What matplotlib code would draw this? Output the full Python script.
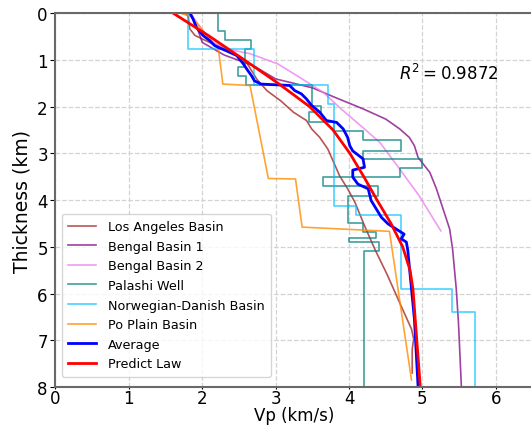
import matplotlib
matplotlib.use("Agg")
import matplotlib.pyplot as plt

# Velocity profiles (depth in km, Vp in km/s)
la_depth = [0, 0.09, 0.34, 0.48, 0.63, 0.77, 1.05, 1.41, 1.66, 1.88, 2.12, 2.30, 2.48, 2.66,
            2.91, 3.23, 3.48, 3.76, 4.05, 4.55, 5.05, 5.6, 6.2, 6.76, 6.97, 7.19, 7.7]
la_vp = [1.78, 1.81, 1.83, 1.90, 2.10, 2.33, 2.60, 2.74, 2.88, 3.07, 3.24, 3.42, 3.49, 3.60,
         3.71, 3.80, 3.87, 3.98, 4.08, 4.21, 4.35, 4.52, 4.69, 4.85, 4.88, 4.86, 4.86]

bb1_depth = [0, 0.27, 0.63, 0.9, 1.13, 1.41, 1.6, 1.8, 2.05, 2.27, 2.48, 2.66, 2.84, 3.09,
             3.41, 3.76, 4.19, 4.62, 5.05, 5.90, 6.62, 8.0]
bb1_vp = [1.83, 1.92, 2.00, 2.30, 2.70, 3.00, 3.50, 3.80, 4.19, 4.50, 4.69, 4.82, 4.89, 4.94,
          5.10, 5.19, 5.28, 5.37, 5.41, 5.46, 5.49, 5.53]

bb2_depth = [0, 0.1, 0.34, 0.63, 0.77, 0.87, 1.09, 1.38, 1.7, 2.05, 2.4, 2.77, 3.34, 3.9, 4.66]
bb2_vp = [1.85, 1.88, 1.99, 2.15, 2.33, 2.65, 3.03, 3.33, 3.65, 3.89, 4.15, 4.42, 4.69, 4.95, 5.25]

pw_depth = [0, 0.38, 0.38, 0.57, 0.57, 0.77, 0.77, 1.16, 1.16, 1.34, 1.34, 1.55, 1.55, 1.98,
            1.98, 2.12, 2.12, 2.34, 2.34, 2.52, 2.52, 2.71, 2.71, 2.95, 2.95, 3.12, 3.12, 3.32,
            3.32, 3.51, 3.51, 3.71, 3.71, 3.92, 3.92, 4.49, 4.49, 4.69, 4.69, 4.82, 4.82, 4.90,
            4.90, 5.10, 5.10, 8.0]
pw_vp = [2.22, 2.22, 2.31, 2.31, 2.66, 2.66, 2.58, 2.58, 2.49, 2.49, 2.60, 2.60, 3.49, 3.49,
         3.62, 3.62, 3.46, 3.46, 3.80, 3.80, 4.19, 4.19, 4.71, 4.71, 4.19, 4.19, 5.00, 5.00,
         4.69, 4.69, 3.64, 3.64, 4.39, 4.39, 3.98, 3.98, 4.19, 4.19, 4.37, 4.37, 4.00, 4.00,
         4.41, 4.41, 4.20, 4.20]

nd_depth = [0, 0.77, 0.77, 1.55, 1.55, 1.95, 1.95, 4.12, 4.12, 4.32, 4.32, 5.90, 5.90, 6.39,
            6.39, 8.0]
nd_vp = [1.80, 1.80, 2.70, 2.70, 3.71, 3.71, 3.80, 3.80, 4.10, 4.10, 4.71, 4.71, 5.40, 5.40,
         5.71, 5.71]

po_depth = [0, 0.08, 0.77, 1.52, 1.55, 3.54, 3.55, 4.58, 4.67, 7.85]
po_vp = [1.70, 1.85, 2.22, 2.28, 2.65, 2.90, 3.27, 3.36, 4.55, 4.85]

avg_depth = [0, 0.13, 0.31, 0.48, 0.59, 0.70, 0.75, 0.81, 0.91, 1.09, 1.23, 1.34, 1.45, 1.52,
             1.55, 1.66, 1.73, 1.84, 1.98, 2.12, 2.30, 2.34, 2.48, 2.66, 2.84, 2.95, 3.12,
             3.30, 3.36, 3.51, 3.66, 3.76, 4.01, 4.19, 4.37, 4.51, 4.62, 4.73, 4.83, 4.90,
             5.08, 5.41, 5.90, 6.55, 8.0]
avg_vp = [1.83, 1.875, 1.92, 2.01, 2.10, 2.17, 2.24, 2.33, 2.47, 2.56, 2.62, 2.67, 2.71, 2.80,
          3.19, 3.26, 3.35, 3.42, 3.49, 3.60, 3.69, 3.83, 3.92, 3.98, 4.01, 4.05, 4.19,
          4.21, 4.05, 4.05, 4.12, 4.26, 4.30, 4.37, 4.44, 4.53, 4.64, 4.75, 4.71, 4.78,
          4.80, 4.82, 4.85, 4.89, 4.94]

law_depth = [0, 0.5, 1, 1.5, 2, 2.5, 3, 3.5, 4, 4.5, 5, 5.5, 5.9, 8]
law_vp = [1.60, 2.10, 2.57, 3.03, 3.46, 3.78, 4.01, 4.20, 4.38, 4.57, 4.73, 4.83, 4.87, 4.97]

r2 = 0.9872

fig = plt.figure(figsize=(5.31, 4.27), dpi=100)
ax = fig.add_axes([0.1045, 0.0913, 0.8985, 0.8759])

ax.plot(la_vp, la_depth, color="brown", alpha=0.8, lw=1.2, label="Los Angeles Basin")
ax.plot(bb1_vp, bb1_depth, color="purple", alpha=0.75, lw=1.2, label="Bengal Basin 1")
ax.plot(bb2_vp, bb2_depth, color="violet", alpha=0.8, lw=1.2, label="Bengal Basin 2")
ax.plot(pw_vp, pw_depth, color="teal", alpha=0.75, lw=1.2, label="Palashi Well")
ax.plot(nd_vp, nd_depth, color="deepskyblue", alpha=0.7, lw=1.2, label="Norwegian-Danish Basin")
ax.plot(po_vp, po_depth, color="darkorange", alpha=0.8, lw=1.2, label="Po Plain Basin")
ax.plot(avg_vp, avg_depth, color="blue", lw=2, label="Average")
ax.plot(law_vp, law_depth, color="red", lw=2, label="Predict Law")

ax.set_xlim(0, 6.5)
ax.set_ylim(8, 0)
ax.set_xticks(range(7))
ax.set_xlabel("Vp (km/s)", fontsize=12)
ax.xaxis.set_label_coords(0.5, -0.05)
ax.set_ylabel("Thickness (km)", fontsize=13.5, labelpad=4)
ax.tick_params(labelsize=12, pad=2)
ax.tick_params(axis="x", length=1.5, pad=0)
ax.grid(True, linestyle="--", color="lightgray", lw=0.9)
for side in ["left", "bottom", "top"]:
    ax.spines[side].set_color("dimgray")
    ax.spines[side].set_linewidth(1.5)
ax.spines["right"].set_visible(False)

ax.text(4.68, 1.28, "$R^2 = %.4f$" % r2, fontsize=12, va="center")
ax.legend(loc="lower left", fontsize=9.2, handlelength=2.2, labelspacing=0.52,
          handletextpad=0.9, borderpad=0.5, bbox_to_anchor=(0, 0.01))

fig.savefig("out.png", dpi=100)
